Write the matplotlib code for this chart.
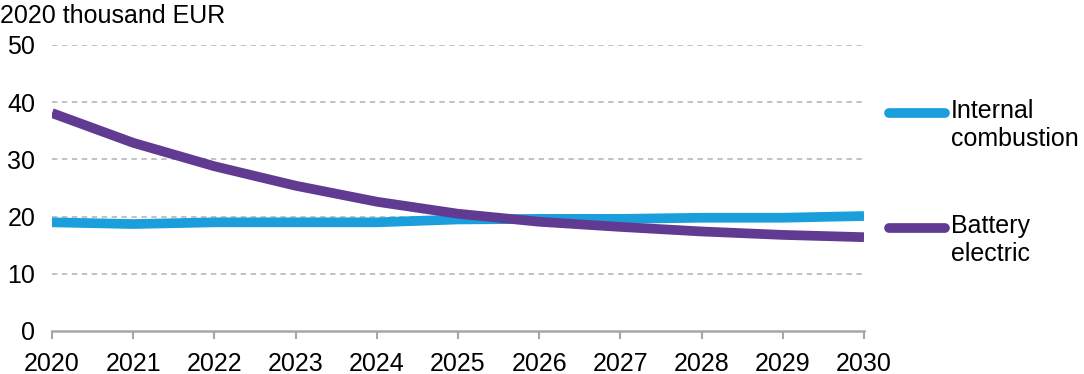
import matplotlib.pyplot as plt
from matplotlib.lines import Line2D

plt.rcParams['font.family'] = ['Liberation Sans', 'DejaVu Sans']

years = [2020, 2021, 2022, 2023, 2024, 2025, 2026, 2027, 2028, 2029, 2030]
internal_combustion = [19.0, 18.7, 19.0, 19.0, 19.0, 19.5, 19.6, 19.6, 19.8, 19.8, 20.1]
battery_electric = [38.1, 32.9, 28.8, 25.4, 22.6, 20.5, 19.1, 18.2, 17.4, 16.8, 16.4]
yticks = [0, 10, 20, 30, 40, 50]

blue = '#1a9fdc'
purple = '#603b91'
grey = '#a6a6a6'
fs = 18
lw = 7.0

fig = plt.figure(figsize=(10.84, 3.74), dpi=100)
ax = fig.add_axes([52 / 1084, 1 - 331 / 374, (864 - 52) / 1084, (331 - 45) / 374])

ax.plot(years, internal_combustion, color=blue, lw=lw, solid_capstyle='butt',
        solid_joinstyle='round', zorder=3)
ax.plot(years, battery_electric, color=purple, lw=lw, solid_capstyle='butt',
        solid_joinstyle='round', zorder=4)

ax.set_xlim(2020, 2030)
ax.set_ylim(0, 50)
ax.set_yticks(yticks)
ax.set_xticks(years)
for y in yticks[1:]:
    ax.axhline(y, color='#bdbdbd', lw=1.3, ls=(0, (3, 2.5)), zorder=1)

for s in ['top', 'right', 'left']:
    ax.spines[s].set_visible(False)
ax.spines['bottom'].set_color(grey)
ax.spines['bottom'].set_linewidth(1.8)
ax.tick_params(axis='x', direction='out', length=6, width=1.5, color=grey,
               labelsize=fs, pad=9)
ax.tick_params(axis='y', length=0, labelsize=fs, pad=12)

fig.text(0.0, 1 - 16 / 374, '2020 thousand EUR', fontsize=fs, va='center', ha='left')

# legend
for ypx, col, lab in [(113, blue, 'Internal\ncombustion'), (228, purple, 'Battery\nelectric')]:
    yf = 1 - ypx / 374
    fig.add_artist(Line2D([889 / 1084, 945 / 1084], [yf, yf], color=col, lw=lw,
                          solid_capstyle='round', transform=fig.transFigure))
    fig.text(951 / 1084, 1 - (ypx - 14) / 374, lab, fontsize=fs, va='top', ha='left',
             linespacing=1.2)

fig.savefig('out.png', dpi=100)
